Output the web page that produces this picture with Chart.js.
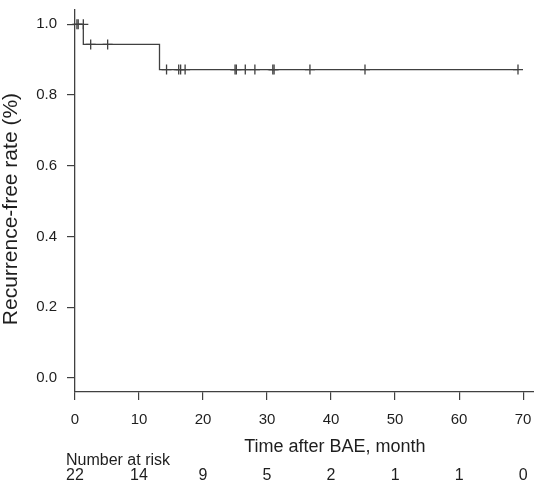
<!DOCTYPE html>
<html><head><meta charset="utf-8">
<script src="https://cdn.jsdelivr.net/npm/chart.js@4"></script>
<style>html,body{margin:0;padding:0;background:#fff}#wrap{width:534px;height:483px;position:relative}</style>
</head><body><div id="wrap"><canvas id="c" width="534" height="483"></canvas></div>
<script>
const xTicks = [0, 10, 20, 30, 40, 50, 60, 70];
const yTicks = [0, 0.2, 0.4, 0.6, 0.8, 1.0];
const eventTimes = [0, 1.3, 13.2];
const survival = [1.0, 0.943, 0.872];
const lastTime = 69.2;
const censorTimes = [0.3, 0.5, 1.3, 2.45, 5.1, 14.3, 16.2, 16.5, 17.2, 25.0, 25.2, 26.6, 28.1, 30.9, 31.1, 36.7, 45.3, 69.2];
const atRiskTimes = [0, 10, 20, 30, 40, 50, 60, 70];
const atRisk = [22, 14, 9, 5, 2, 1, 1, 0];

const FONT = "'Liberation Sans', Arial, sans-serif";
const LINE = '#404040';
const TEXT = '#1e1e1e';

function levelAt(t) {
  let s = survival[0];
  for (let i = 0; i < eventTimes.length; i++) if (eventTimes[i] < t || (i === 0 && eventTimes[i] <= t)) s = survival[i];
  return s;
}

const curve = eventTimes.map((t, i) => ({x: t, y: survival[i]}));
curve.push({x: lastTime, y: survival[survival.length - 1]});
const censors = censorTimes.map(t => ({x: t, y: levelAt(t)}));

const textPlugin = {
  id: 'texts',
  afterDraw(chart) {
    const ctx = chart.ctx;
    const xs = chart.scales.x, ys = chart.scales.y;
    ctx.save();
    ctx.fillStyle = TEXT;
    ctx.font = "18px " + FONT;
    ctx.textAlign = 'center';
    ctx.textBaseline = 'alphabetic';
    ctx.fillText('Time after BAE, month', xs.getPixelForValue(40.6), 452);
    ctx.font = "16px " + FONT;
    ctx.textAlign = 'left';
    ctx.fillText('Number at risk', 66, 465);
    ctx.textAlign = 'center';
    atRiskTimes.forEach((t, i) => {
      ctx.fillText(String(atRisk[i]), xs.getPixelForValue(t), 480);
    });
    ctx.translate(17, (ys.getPixelForValue(0) + ys.getPixelForValue(1)) / 2 + 8);
    ctx.rotate(-Math.PI / 2);
    ctx.font = "21px " + FONT;
    ctx.textAlign = 'center';
    ctx.textBaseline = 'alphabetic';
    ctx.fillText('Recurrence-free rate (%)', 0, 0);
    ctx.restore();
  }
};

new Chart(document.getElementById('c'), {
  type: 'line',
  data: {
    datasets: [
      {data: curve, stepped: true, borderColor: LINE, borderWidth: 1.3, pointRadius: 0, fill: false, clip: false},
      {data: censors, showLine: false, pointStyle: 'cross', pointRadius: 5, pointBorderWidth: 1.3, borderColor: LINE, pointBorderColor: LINE, clip: false}
    ]
  },
  options: {
    responsive: false,
    devicePixelRatio: 1,
    animation: false,
    events: [],
    layout: {autoPadding: false, padding: {top: 10, left: 0, right: 0, bottom: 0}},
    plugins: {legend: {display: false}, tooltip: {enabled: false}, title: {display: false}},
    scales: {
      x: {
        type: 'linear', min: 0, max: 71.7,
        afterBuildTicks: s => { s.ticks = xTicks.map(v => ({value: v})); },
        afterFit: s => { s.height = 91; s.paddingLeft = 0; s.paddingRight = 0; },
        grid: {display: true, drawOnChartArea: false, drawTicks: true, tickLength: 8, color: LINE, lineWidth: 1.2},
        border: {display: true, color: LINE, width: 1.3},
        ticks: {font: {size: 15, family: FONT}, color: TEXT, padding: 11, maxRotation: 0, autoSkip: false}
      },
      y: {
        type: 'linear', min: -0.04, max: 1.0404,
        afterBuildTicks: s => { s.ticks = yTicks.map(v => ({value: v})); },
        afterFit: s => { s.width = 75; s.paddingTop = 0; s.paddingBottom = 0; },
        grid: {display: true, drawOnChartArea: false, drawTicks: true, tickLength: 8, color: LINE, lineWidth: 1.2},
        border: {display: true, color: LINE, width: 1.3},
        ticks: {font: {size: 15, family: FONT}, color: TEXT, padding: 10, callback: v => Number(v).toFixed(1)}
      }
    }
  },
  plugins: [textPlugin]
});
</script></body></html>
